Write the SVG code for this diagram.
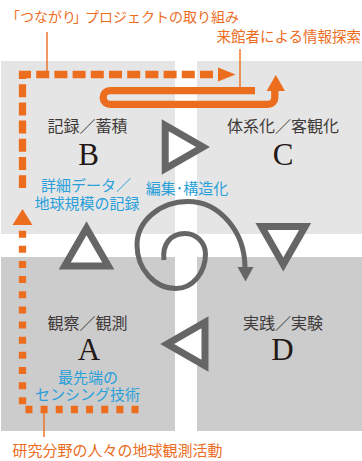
<svg xmlns="http://www.w3.org/2000/svg" width="362" height="461" viewBox="0 0 362 461">
<style>
.boxT{fill:#e5e5e5}
.boxB{fill:#cccccc}
.lab{font-family:"Noto Sans CJK JP","Noto Sans",sans-serif;font-size:16px;fill:#3e3a39;text-anchor:middle}
.let{font-family:"Liberation Serif",serif;font-size:31px;fill:#231815;text-anchor:middle}
.blue{font-family:"Noto Sans CJK JP","Noto Sans",sans-serif;font-size:15px;fill:#29a0da;text-anchor:middle}
.org{font-family:"Noto Sans CJK JP","Noto Sans",sans-serif;fill:#ed6d1f}
.tri{fill:#ffffff;stroke:#666666;stroke-width:7;stroke-linejoin:miter}
.lead{stroke:#ed6d1f;stroke-width:1.4;fill:none}
.othick{stroke:#ed6d1f;stroke-width:7.3;fill:none}
.ofill{fill:#ed6d1f}
</style>
<g id="nodeB">
<rect class="boxT" x="1" y="61" width="174" height="173"/>
<text class="lab" x="87.5" y="132">記録／蓄積</text>
<text class="let" x="88.5" y="165">B</text>
</g>
<g id="nodeC">
<rect class="boxT" x="197" y="61" width="165" height="173"/>
<text class="lab" x="283" y="132">体系化／客観化</text>
<text class="let" x="283" y="165">C</text>
</g>
<g id="nodeA">
<rect class="boxB" x="1" y="257" width="174" height="174"/>
<text class="lab" x="87.5" y="328.5">観察／観測</text>
<text class="let" x="89" y="360">A</text>
</g>
<g id="nodeD">
<rect class="boxB" x="197" y="257" width="165" height="174"/>
<text class="lab" x="283" y="328.5">実践／実験</text>
<text class="let" x="282.5" y="360">D</text>
</g>
<g id="connectors">
<polygon class="tri" points="165.2,125.2 165.2,168.8 203,147"/>
<polygon class="tri" points="261.5,226.6 305.1,226.6 283.3,264.4"/>
<polygon class="tri" points="205,322.2 205,365.8 167.2,344"/>
<polygon class="tri" points="86.5,228.2 108.3,266 64.7,266"/>
<path d="M164,260 C162,245 170,233.5 185,233.5 C196.3,233.5 205.5,242.7 205.5,254 C205.5,273 192.3,288.5 176,288.5 C154.5,288.5 137,269 137,245 C137,221 160,201.5 188,201.5 C219,201.5 245,231 245,268" fill="none" stroke="#666666" stroke-width="5"/>
<polygon points="237.5,267 253.5,267 245.5,281.5" fill="#666666"/>
<path d="M138.5,409.5 H22.5 V226" class="othick" stroke-width="7" stroke-dasharray="7 8.15"/>
<polygon class="ofill" points="22.5,209 32.5,225 12.5,225"/>
<path d="M213,74.5 H22.5 V188" class="othick" stroke-dasharray="13 5.2"/>
<polygon class="ofill" points="235.5,74.5 218,67.5 218,81.5"/>
<path d="M255,90.7 H110 A6.8,6.8 0 0 0 110,104.3 H268 A6.8,6.8 0 0 0 274.8,97.5 V89" class="othick"/>
<polygon class="ofill" points="275.8,75 285,91 266.6,91"/>
<line class="lead" x1="47" y1="32" x2="47" y2="71"/>
<line class="lead" x1="240" y1="49" x2="240" y2="87"/>
<line class="lead" x1="44" y1="413" x2="44" y2="437"/>
</g>
<g id="annotations">
<text class="org" font-size="14" x="6" y="22" dx="0 0 0 0 0 -3 -2">「つながり」プロジェクトの取り組み</text>
<text class="org" font-size="14.5" x="216.5" y="42">来館者による情報探索</text>
<text class="org" font-size="15" x="12.5" y="456">研究分野の人々の地球観測活動</text>
<text class="blue"><tspan x="86" y="191">詳細データ／</tspan><tspan x="87" y="208.5">地球規模の記録</tspan></text>
<text class="blue" x="187" y="194">編集･構造化</text>
<text class="blue"><tspan x="88" y="382.5">最先端の</tspan><tspan x="87.5" y="399.5">センシング技術</tspan></text>
</g>
</svg>
